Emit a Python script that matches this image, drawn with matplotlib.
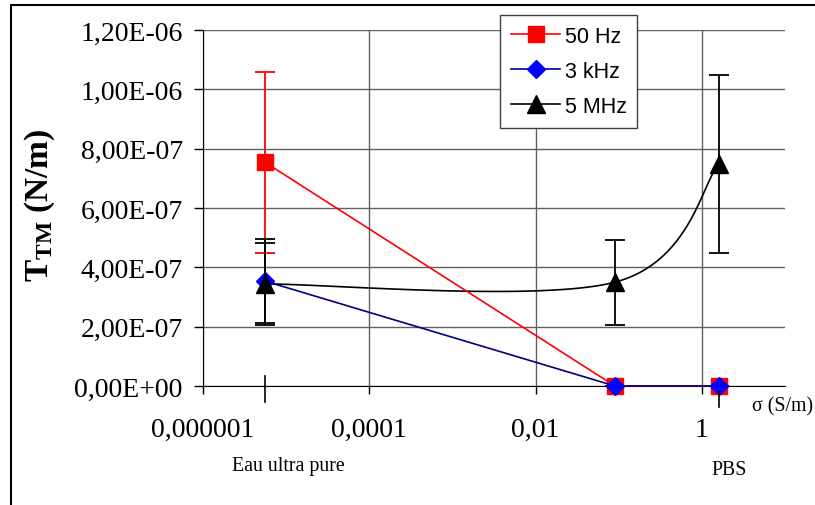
import numpy as np
import matplotlib
matplotlib.use("Agg")
import matplotlib.pyplot as plt
from matplotlib.patches import Rectangle
from matplotlib.lines import Line2D

plt.rcParams['font.family'] = 'Liberation Serif'
plt.rcParams['mathtext.fontset'] = 'custom'
plt.rcParams['mathtext.rm'] = 'Liberation Serif:bold'
plt.rcParams['mathtext.it'] = 'Liberation Serif:bold'
plt.rcParams['mathtext.bf'] = 'Liberation Serif:bold'

# conductivity of the three media (S/m)
sigma = [5.5e-6, 0.09, 1.6]

t_50hz = [7.55e-7, 0.0, 0.0]
e_50hz = [3.05e-7, 0.0, 0.0]
t_3khz = [3.54e-7, 0.0, 0.0]
e_3khz = [1.4e-7, 0.0, 0.0]
t_5mhz = [3.44e-7, 3.5e-7, 7.48e-7]
e_5mhz = [1.38e-7, 1.43e-7, 3.0e-7]

xticks = [1e-6, 1e-4, 1e-2, 1]
xticklabels = ['0,000001', '0,0001', '0,01', '1']
yticks = [0, 2e-7, 4e-7, 6e-7, 8e-7, 1e-6, 1.2e-6]
yticklabels = ['0,00E+00', '2,00E-07', '4,00E-07', '6,00E-07',
               '8,00E-07', '1,00E-06', '1,20E-06']


def excel_smooth(xs, ys, n=60):
    # bezier smoothing like excel "smoothed line", done in log-x space
    p = np.column_stack([np.log10(xs), ys])
    out = []
    for i in range(len(p) - 1):
        p0 = p[i - 1] if i > 0 else p[i]
        p1, p2 = p[i], p[i + 1]
        p3 = p[i + 2] if i + 2 < len(p) else p[i + 1]
        c1 = p1 + (p2 - p0) / 6
        c2 = p2 - (p3 - p1) / 6
        t = np.linspace(0, 1, n)[:, None]
        seg = ((1 - t) ** 3 * p1 + 3 * (1 - t) ** 2 * t * c1
               + 3 * (1 - t) * t ** 2 * c2 + t ** 3 * p2)
        out.append(seg)
    out = np.vstack(out)
    return 10 ** out[:, 0], out[:, 1]


fig = plt.figure(figsize=(8.15, 5.06), dpi=100)
ax = fig.add_axes([203/815, 1-387/506, 582/815, 356/506])

ax.set_xscale('log')
ax.set_xlim(1e-6, 10)
ax.set_ylim(0, 1.2e-6)

ax.grid(True, which='major', color='#606060', lw=1)
ax.set_axisbelow(True)

# 50 Hz
ax.errorbar(sigma, t_50hz, yerr=e_50hz, color='red', lw=1.2, capsize=7,
            elinewidth=1.3, capthick=1.3, marker='s', ms=11, mfc='red',
            mec='red', clip_on=False, zorder=3)
# 3 kHz
ax.errorbar(sigma, t_3khz, yerr=e_3khz, color='#000080', ecolor='black',
            lw=1.2, capsize=7, elinewidth=1.3, capthick=1.3, marker='D',
            ms=9, mfc='blue', mec='blue', clip_on=False, zorder=4)
# 5 MHz: smoothed line + markers
sx, sy = excel_smooth(sigma, t_5mhz)
ax.plot(sx, sy, color='black', lw=1.2, zorder=3)
ax.errorbar(sigma, t_5mhz, yerr=e_5mhz, color='black', ls='none', capsize=7,
            elinewidth=1.3, capthick=1.3, marker='^', ms=13, zorder=5)

ax.set_xticks(xticks)
ax.set_xticklabels(xticklabels)
ax.xaxis.set_minor_locator(matplotlib.ticker.NullLocator())
ax.set_yticks(yticks)
ax.set_yticklabels(yticklabels)
ax.tick_params(axis='y', direction='out', length=6.5, width=1, labelsize=20,
               pad=8)
ax.tick_params(axis='x', direction='out', length=6, width=1, labelsize=20,
               pad=16)

for s in ['top', 'right']:
    ax.spines[s].set_visible(False)
ax.spines['left'].set_bounds(-0.025e-6, 1.2e-6)

# sample marker ticks under the x axis
ax.plot([sigma[0], sigma[0]], [3.4e-8, -5.4e-8],
        color='black', lw=1.2, clip_on=False)
ax.plot([sigma[2], sigma[2]], [-2e-8, -7.1e-8],
        color='black', lw=1.2, clip_on=False, zorder=6)

ax.set_ylabel(r'$\mathrm{T_{TM}}$ (N/m)', fontsize=24, fontweight='bold')
ax.yaxis.set_label_coords(-0.25, 0.51)

fig.text(288/815, 1-467/506, 'Eau ultra pure', fontsize=14.3,
         ha='center', va='center')
fig.text(729/815, 1-471/506, 'PBS', fontsize=14.3, ha='center', va='center')
fig.text(752/815, 1-407/506, 'σ (S/m)', fontsize=14.3, ha='left',
         va='center')

handles = [
    Line2D([], [], color='red', lw=1.2, marker='s', ms=11),
    Line2D([], [], color='#000080', lw=1.2, marker='D', ms=9, mfc='blue',
           mec='blue'),
    Line2D([], [], color='black', lw=1.2, marker='^', ms=13),
]
leg = ax.legend(handles, ['50 Hz', '3 kHz', '5 MHz'], loc='upper left',
                bbox_to_anchor=(500/815, 1-16/506),
                bbox_transform=fig.transFigure, frameon=True, fancybox=False,
                edgecolor='#404040', framealpha=1,
                prop={'family': 'Liberation Sans', 'size': 15.5},
                handlelength=2.3, handletextpad=0.2, labelspacing=0.65,
                borderpad=0.5, borderaxespad=0)
leg.get_frame().set_linewidth(1)

fig.add_artist(Rectangle((11/815, -0.1), 1.2, 1 - 6/506 + 0.1,
                         transform=fig.transFigure, fill=False,
                         edgecolor='black', lw=1.5))

fig.savefig('out.png', dpi=100)
